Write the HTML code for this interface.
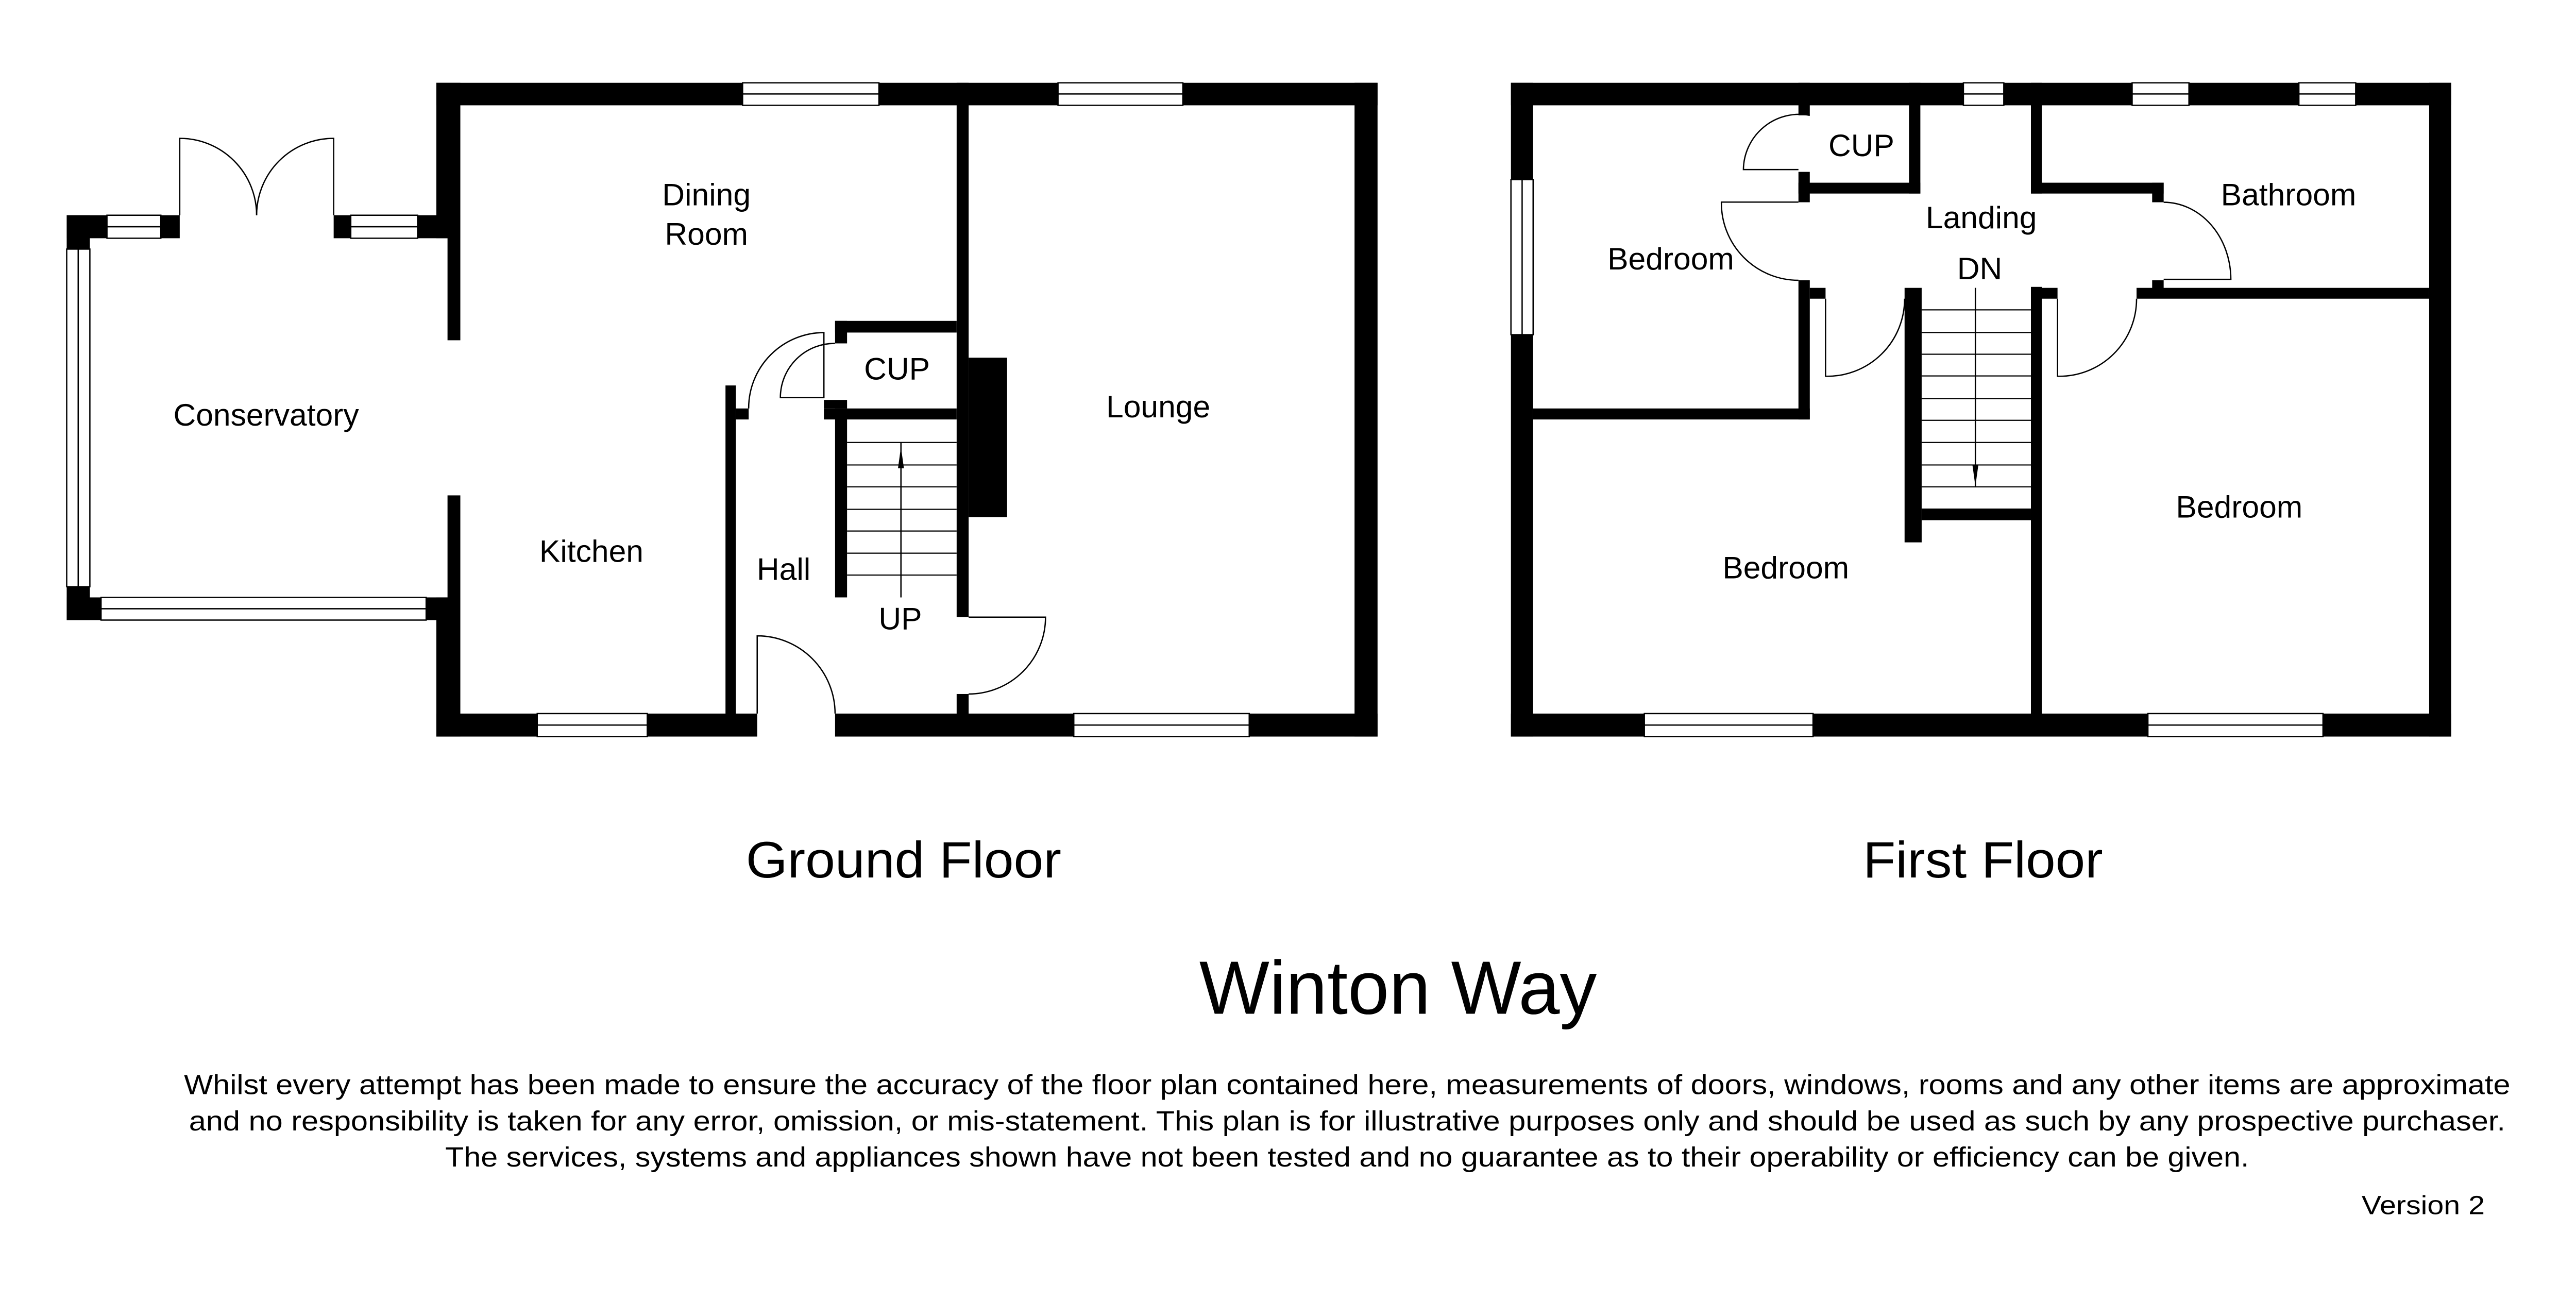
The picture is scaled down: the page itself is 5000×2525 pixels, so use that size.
<!DOCTYPE html>
<html><head><meta charset="utf-8"><style>html,body{margin:0;padding:0;background:#fff}svg{display:block}</style></head><body>
<svg width="5000" height="2525" viewBox="0 0 1562.5 789.06" xmlns="http://www.w3.org/2000/svg" font-family="Liberation Sans, Arial, sans-serif">
<rect width="1562.5" height="789.06" fill="#fff"/>
<g transform="scale(0.9965)">
<g fill="#000">
<rect x="265.6" y="50.4" width="572.9" height="13.7"/>
<rect x="824.5" y="50.4" width="14" height="397.9"/>
<rect x="265.6" y="434.3" width="195.3" height="14"/>
<rect x="508.3" y="434.3" width="330.2" height="14"/>
<rect x="265.6" y="50.4" width="14.6" height="94.6"/>
<rect x="272.4" y="131" width="7.8" height="76.1"/>
<rect x="272.4" y="301.5" width="7.8" height="70"/>
<rect x="265.6" y="363.6" width="14.6" height="84.7"/>
<rect x="40.6" y="131" width="68.8" height="14"/>
<rect x="203.1" y="131" width="69.3" height="14"/>
<rect x="40.6" y="131" width="14.1" height="246.4"/>
<rect x="40.6" y="363.6" width="231.8" height="13.8"/>
<rect x="582.3" y="50.4" width="7.3" height="325.2"/>
<rect x="582.3" y="422.4" width="7.3" height="20"/>
<rect x="589.6" y="217.7" width="23.4" height="97"/>
<rect x="508.3" y="195.3" width="74" height="7.1"/>
<rect x="508.3" y="195.3" width="7.3" height="13.7"/>
<rect x="501.5" y="243.4" width="14.1" height="5.2"/>
<rect x="501.5" y="248.6" width="80.8" height="6.7"/>
<rect x="508.3" y="248.6" width="7.3" height="115"/>
<rect x="441.6" y="234.6" width="6.3" height="205"/>
<rect x="447.9" y="248.6" width="7.8" height="6.7"/>
<rect x="919.7" y="50.4" width="572.3" height="13.7"/>
<rect x="919.7" y="434.3" width="572.3" height="14"/>
<rect x="919.7" y="50.4" width="13.5" height="397.9"/>
<rect x="1478.6" y="50.4" width="13.4" height="397.9"/>
<rect x="1236.2" y="174.6" width="6.6" height="265"/>
<rect x="1236.2" y="50.4" width="6.6" height="67.4"/>
<rect x="1236.2" y="111.2" width="80.8" height="6.6"/>
<rect x="1310" y="111.2" width="7" height="11.9"/>
<rect x="1310" y="170.6" width="7" height="5"/>
<rect x="1300.5" y="175.2" width="178.1" height="6.6"/>
<rect x="1236.2" y="175.2" width="16.2" height="6.6"/>
<rect x="1159.3" y="175.2" width="10.4" height="154.9"/>
<rect x="1169.7" y="309.5" width="66.5" height="7.1"/>
<rect x="1094.7" y="50.4" width="6.9" height="19.8"/>
<rect x="1094.7" y="104.6" width="6.9" height="18.5"/>
<rect x="1094.7" y="111.2" width="74.2" height="6.6"/>
<rect x="1162" y="50.4" width="6.9" height="67.4"/>
<rect x="1094.7" y="170.6" width="6.9" height="84.7"/>
<rect x="1101.6" y="175.2" width="9.6" height="6.6"/>
<rect x="933.2" y="248.6" width="168.4" height="6.7"/>
</g>
<g fill="#fff" stroke="#000" stroke-width="0.8">
<rect x="452" y="50.4" width="83" height="13.7"/><line x1="452" y1="57.2" x2="535" y2="57.2"/>
<rect x="644" y="50.4" width="76" height="13.7"/><line x1="644" y1="57.2" x2="720" y2="57.2"/>
<rect x="327" y="434.3" width="67" height="14"/><line x1="327" y1="441.3" x2="394" y2="441.3"/>
<rect x="653.6" y="434.3" width="106.8" height="14"/><line x1="653.6" y1="441.3" x2="760.4" y2="441.3"/>
<rect x="65.1" y="131" width="32.8" height="14"/><line x1="65.1" y1="138" x2="97.9" y2="138"/>
<rect x="213.5" y="131" width="40.7" height="14"/><line x1="213.5" y1="138" x2="254.2" y2="138"/>
<rect x="40.6" y="151.6" width="14.1" height="205.5"/><line x1="47.6" y1="151.6" x2="47.6" y2="357.1"/>
<rect x="61.5" y="363.6" width="197.9" height="13.8"/><line x1="61.5" y1="370.5" x2="259.4" y2="370.5"/>
<rect x="1195.1" y="50.4" width="24.6" height="13.7"/><line x1="1195.1" y1="57.2" x2="1219.7" y2="57.2"/>
<rect x="1297.8" y="50.4" width="34.6" height="13.7"/><line x1="1297.8" y1="57.2" x2="1332.4" y2="57.2"/>
<rect x="1399.3" y="50.4" width="34.6" height="13.7"/><line x1="1399.3" y1="57.2" x2="1433.9" y2="57.2"/>
<rect x="919.7" y="109.3" width="13.5" height="94.4"/><line x1="926.5" y1="109.3" x2="926.5" y2="203.7"/>
<rect x="1000.9" y="434.3" width="102.7" height="14"/><line x1="1000.9" y1="441.3" x2="1103.6" y2="441.3"/>
<rect x="1307.4" y="434.3" width="106.6" height="14"/><line x1="1307.4" y1="441.3" x2="1414" y2="441.3"/>
</g>
<g fill="none" stroke="#000" stroke-width="0.8">
<path d="M109.4 131 V84.2 A46.8 46.8 0 0 1 156.2 131"/>
<path d="M203.1 131 V84.2 A46.8 46.8 0 0 0 156.2 131"/>
<path d="M589.6 375.6 H636.4 A46.8 46.8 0 0 1 589.6 422.4"/>
<path d="M460.9 434.3 V387 A47.4 47.4 0 0 1 508.3 434.3"/>
<path d="M455.7 248.6 A46 46 0 0 1 501.5 202.4 V209"/>
<path d="M501.5 209 V242 H475 A33 33 0 0 1 508.3 209"/>
<line x1="548.4" y1="269.3" x2="548.4" y2="363.6"/>
<path d="M1101.6 70.2 A34 34 0 0 0 1061.2 103.2 H1094.7"/>
<path d="M1094.7 123 H1047.8 A47 47 0 0 0 1094.7 170.6"/>
<path d="M1317 123.1 A41 47 0 0 1 1357.9 170 H1317"/>
<path d="M1111.2 181.8 V229 A47 47 0 0 0 1159.3 181.8"/>
<path d="M1252.4 181.8 V229 A47 47 0 0 0 1300.5 181.8"/>
<line x1="1202.4" y1="175.2" x2="1202.4" y2="296"/>
</g>
<g stroke="#000" stroke-width="0.7">
<line x1="515.6" y1="269.3" x2="582.3" y2="269.3"/><line x1="515.6" y1="283" x2="582.3" y2="283"/><line x1="515.6" y1="296.3" x2="582.3" y2="296.3"/><line x1="515.6" y1="310" x2="582.3" y2="310"/><line x1="515.6" y1="323.2" x2="582.3" y2="323.2"/><line x1="515.6" y1="336.7" x2="582.3" y2="336.7"/><line x1="515.6" y1="350" x2="582.3" y2="350"/>
<line x1="1169.7" y1="188.6" x2="1236.2" y2="188.6"/><line x1="1169.7" y1="202.4" x2="1236.2" y2="202.4"/><line x1="1169.7" y1="215.6" x2="1236.2" y2="215.6"/><line x1="1169.7" y1="228.8" x2="1236.2" y2="228.8"/><line x1="1169.7" y1="242.6" x2="1236.2" y2="242.6"/><line x1="1169.7" y1="255.8" x2="1236.2" y2="255.8"/><line x1="1169.7" y1="269.3" x2="1236.2" y2="269.3"/><line x1="1169.7" y1="283" x2="1236.2" y2="283"/><line x1="1169.7" y1="296.3" x2="1236.2" y2="296.3"/>
</g>
<path d="M548.4 272 L546.6 285 L550.2 285 Z" fill="#000"/>
<path d="M1202.4 296 L1200.6 283 L1204.2 283 Z" fill="#000"/>
<g font-size="19" fill="#000" text-anchor="middle">
<text x="430" y="125">Dining</text><text x="430" y="149">Room</text>
<text x="162" y="259">Conservatory</text>
<text x="360" y="342">Kitchen</text>
<text x="477" y="353">Hall</text>
<text x="546" y="231">CUP</text>
<text x="548" y="383">UP</text>
<text x="705" y="254">Lounge</text>
<text x="1133" y="95">CUP</text>
<text x="1206" y="139">Landing</text>
<text x="1393" y="125">Bathroom</text>
<text x="1017" y="164">Bedroom</text>
<text x="1205" y="170">DN</text>
<text x="1087" y="352">Bedroom</text>
<text x="1363" y="315">Bedroom</text>
</g>
<g fill="#000" text-anchor="middle">
<text x="550" y="534" font-size="31" textLength="192" lengthAdjust="spacingAndGlyphs">Ground Floor</text>
<text x="1207" y="534" font-size="31" textLength="146" lengthAdjust="spacingAndGlyphs">First Floor</text>
<text x="851" y="617" font-size="46" textLength="242" lengthAdjust="spacingAndGlyphs">Winton Way</text>
<g font-size="17">
<text x="820" y="666" textLength="1416" lengthAdjust="spacingAndGlyphs">Whilst every attempt has been made to ensure the accuracy of the floor plan contained here, measurements of doors, windows, rooms and any other items are approximate</text>
<text x="820" y="688" textLength="1410" lengthAdjust="spacingAndGlyphs">and no responsibility is taken for any error, omission, or mis-statement. This plan is for illustrative purposes only and should be used as such by any prospective purchaser.</text>
<text x="820" y="710" textLength="1098" lengthAdjust="spacingAndGlyphs">The services, systems and appliances shown have not been tested and no guarantee as to their operability or efficiency can be given.</text>
</g>
<text x="1475" y="739" font-size="16" textLength="75" lengthAdjust="spacingAndGlyphs">Version 2</text>
</g>
</g>
</svg>
</body></html>
